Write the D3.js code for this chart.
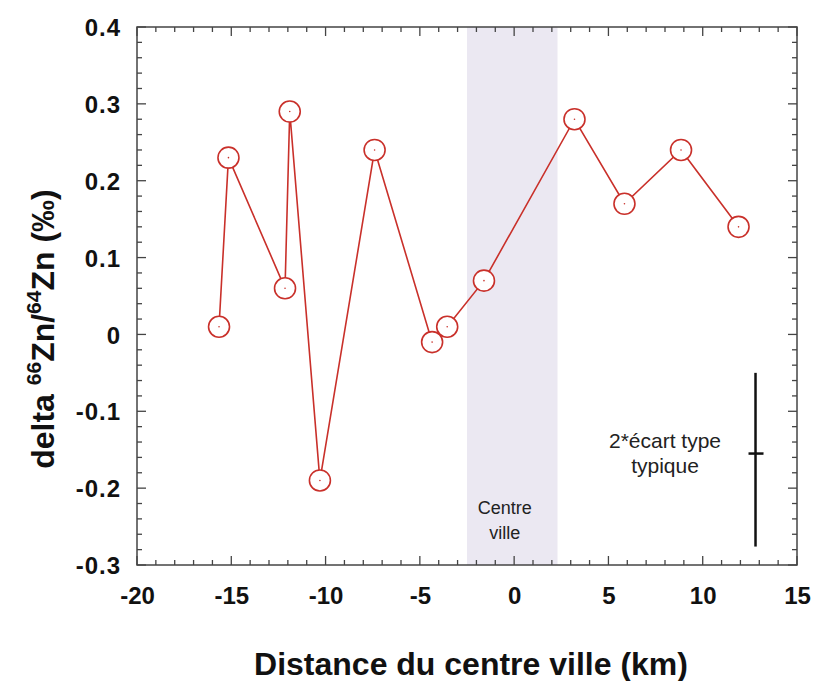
<!DOCTYPE html>
<html><head><meta charset="utf-8">
<script src="https://cdn.jsdelivr.net/npm/d3@7"></script>
<style>body{margin:0;background:#fff}svg{display:block}</style>
</head><body>
<svg id="c" width="814" height="681"></svg>
<script>
const distance = [-15.65, -15.15, -12.15, -11.9, -10.3, -7.4, -4.35, -3.55, -1.6, 3.2, 5.85, 8.85, 11.9];
const delta66Zn = [0.01, 0.23, 0.06, 0.29, -0.19, 0.24, -0.01, 0.01, 0.07, 0.28, 0.17, 0.24, 0.14];
const xTicks = [-20, -15, -10, -5, 0, 5, 10, 15];
const yTicks = [-0.3, -0.2, -0.1, 0, 0.1, 0.2, 0.3, 0.4];
const centreZone = [-2.5, 2.3];
const errBar = {x: 12.8, top: -0.05, mid: -0.155, bottom: -0.276};

const svg = d3.select("#c");
const L = 137, R = 797, T = 27, B = 565;
const x = d3.scaleLinear().domain([-20, 15]).range([L, R]);
const y = d3.scaleLinear().domain([-0.3, 0.4]).range([B, T]);
const red = "#c9302a";
const FONT = "Liberation Sans, Arial, sans-serif";

// shaded centre-ville band
svg.append("rect").attr("x", x(centreZone[0])).attr("y", T)
  .attr("width", x(centreZone[1]) - x(centreZone[0])).attr("height", B - T)
  .attr("fill", "#ebe8f2");
svg.append("text").attr("x", x(-0.5)).attr("y", 514).attr("text-anchor", "middle")
  .attr("font-family", FONT).attr("font-size", 18).attr("fill", "#222").text("Centre");
svg.append("text").attr("x", x(-0.5)).attr("y", 539).attr("text-anchor", "middle")
  .attr("font-family", FONT).attr("font-size", 18).attr("fill", "#222").text("ville");

// ticks
const minorX = d3.range(-20, 15.01, 1);
const minorY = d3.range(-0.3, 0.4001, 0.02).map(v => Math.round(v * 100) / 100);
const isMajX = v => Math.abs(v % 5) < 1e-9;
const isMajY = v => Math.abs(Math.round(v * 10) - v * 10) < 1e-6;
const tg = svg.append("g").attr("stroke", "#444").attr("stroke-width", 1.3);
minorX.forEach(v => {
  const len = isMajX(v) ? 9 : 5;
  tg.append("line").attr("x1", x(v)).attr("x2", x(v)).attr("y1", B).attr("y2", B - len);
  tg.append("line").attr("x1", x(v)).attr("x2", x(v)).attr("y1", T).attr("y2", T + len);
});
minorY.forEach(v => {
  const len = isMajY(v) ? 9 : 5;
  tg.append("line").attr("y1", y(v)).attr("y2", y(v)).attr("x1", L).attr("x2", L + len);
  tg.append("line").attr("y1", y(v)).attr("y2", y(v)).attr("x1", R).attr("x2", R - len);
});
svg.append("rect").attr("x", L).attr("y", T).attr("width", R - L).attr("height", B - T)
  .attr("fill", "none").attr("stroke", "#444").attr("stroke-width", 1.5);

// axis labels via d3 axes (no lines)
const hy = s => s.replace("−", "-");
const xa = svg.append("g").attr("transform", `translate(0,${B})`)
  .call(d3.axisBottom(x).tickValues(xTicks).tickSize(0).tickPadding(22).tickFormat(d => hy(d3.format("d")(d))));
const ya = svg.append("g").attr("transform", `translate(${L},0)`)
  .call(d3.axisLeft(y).tickValues(yTicks).tickSize(0).tickPadding(16).tickFormat(d => d === 0 ? "0" : hy(d3.format(".1f")(d))));
[xa, ya].forEach(a => {
  a.select(".domain").remove();
  a.selectAll("text").attr("font-family", FONT)
    .attr("font-size", 24).attr("font-weight", "bold").attr("fill", "#111");
});
ya.selectAll("text").attr("dy", "0.36em").attr("letter-spacing", 1);

// series line
const data = distance.map((d, i) => [d, delta66Zn[i]]);
svg.append("path").datum(data)
  .attr("d", d3.line().x(d => x(d[0])).y(d => y(d[1])))
  .attr("fill", "none").attr("stroke", red).attr("stroke-width", 1.6);
const pts = svg.append("g").selectAll("g").data(data).join("g")
  .attr("transform", d => `translate(${x(d[0])},${y(d[1])})`);
pts.append("circle").attr("r", 10.5).attr("fill", "#fff").attr("stroke", red).attr("stroke-width", 1.6);
pts.append("circle").attr("r", 0.8).attr("fill", red);

// error bar
const eg = svg.append("g").attr("stroke", "#111").attr("stroke-width", 2.5);
eg.append("line").attr("x1", x(errBar.x)).attr("x2", x(errBar.x)).attr("y1", y(errBar.top)).attr("y2", y(errBar.bottom));
eg.append("line").attr("x1", x(errBar.x) - 7).attr("x2", x(errBar.x) + 8).attr("y1", y(errBar.mid)).attr("y2", y(errBar.mid));
svg.append("text").attr("x", 665).attr("y", 448).attr("text-anchor", "middle")
  .attr("font-family", FONT).attr("font-size", 21).attr("fill", "#222").text("2*écart type");
svg.append("text").attr("x", 665).attr("y", 473).attr("text-anchor", "middle")
  .attr("font-family", FONT).attr("font-size", 21).attr("fill", "#222").text("typique");

// axis titles
svg.append("text").attr("x", 471).attr("y", 675).attr("text-anchor", "middle")
  .attr("font-family", FONT).attr("font-size", 32).attr("font-weight", "bold").attr("fill", "#111")
  .text("Distance du centre ville (km)");
const yt = svg.append("text").attr("transform", "translate(54,329) rotate(-90)").attr("text-anchor", "middle")
  .attr("font-family", FONT).attr("font-size", 32).attr("font-weight", "bold").attr("fill", "#111");
yt.append("tspan").text("delta ");
yt.append("tspan").attr("font-size", 21).attr("dy", -13).text("66");
yt.append("tspan").attr("dy", 13).text("Zn/");
yt.append("tspan").attr("font-size", 21).attr("dy", -13).text("64");
yt.append("tspan").attr("dy", 13).text("Zn (‰)");
</script>
</body></html>
